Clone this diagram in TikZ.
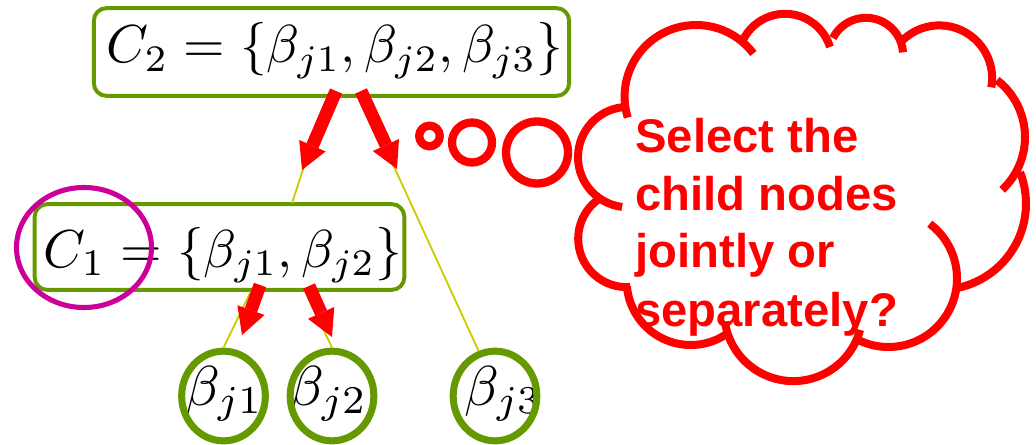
\documentclass[tikz,border=0pt]{standalone}
\usepackage{graphicx}
\usepackage{fontspec}
\newfontfamily\cloudfont{Liberation Sans}
\usetikzlibrary{arrows.meta,calc,shapes.geometric}
\definecolor{boxgreen}{RGB}{102,153,0}
\definecolor{lineyellow}{RGB}{204,204,0}
\definecolor{ringmagenta}{RGB}{204,0,153}
\definecolor{thinkred}{RGB}{255,0,0}
\newcommand{\cloudlobe}[5]{\draw[cloudline] ($(#1,#2)+(#3:#5)$) arc[start angle=#3,end angle=#4,radius=#5];}
\begin{document}
\begin{tikzpicture}[x=0.025cm,y=-0.025cm,
  mathtext/.style={inner sep=0pt,anchor=base},
  grbox/.style={draw=boxgreen,line width=2.8pt,rounded corners=9pt,inner sep=0pt},
  leaf/.style={ellipse,draw=boxgreen,line width=5pt,minimum width=59.5pt,minimum height=63.8pt,inner sep=0pt},
  treeline/.style={draw=lineyellow,line width=1.3pt},
  bigarrow/.style={draw=thinkred,line width=9.2pt,-{Triangle[width=20.5pt,length=18.8pt,line width=0pt]}},
  cloudline/.style={draw=thinkred,line width=5.7pt},
  bubble/.style={draw=thinkred,line width=5.9pt},
  cloudtext/.style={text=thinkred,inner sep=0pt,anchor=base west,font=\cloudfont\bfseries\fontsize{33.6}{40}\selectfont}
]
\useasboundingbox[fill=white] (0,0) rectangle (1036,445);

% boxes and their formulas
\node[grbox,minimum width=338pt,minimum height=62.4pt] (c2box) at (331.5,52) {};
\node[mathtext] (c2txt) at (335,63) {\scalebox{3.8}{$C_2=\{\beta_{j1},\beta_{j2},\beta_{j3}\}$}};
\node[grbox,minimum width=262.9pt,minimum height=61pt] (c1box) at (219.5,247) {};
\node[mathtext] (c1txt) at (223,267) {\scalebox{3.8}{$C_1=\{\beta_{j1},\beta_{j2}\}$}};

% leaves
\node[mathtext] (b1txt) at (224.5,405) {\scalebox{4}{$\beta_{j1}$}};
\node[mathtext] (b2txt) at (328.5,405) {\scalebox{4}{$\beta_{j2}$}};
\node[mathtext] (b3txt) at (503.5,405) {\scalebox{4}{$\beta_{j3}$}};
\node[leaf] (b1) at (223.5,396) {};
\node[leaf] (b2) at (332,396) {};
\node[leaf] (b3) at (495,396) {};

% tree edges
\coordinate (c2a) at (327,97);
\coordinate (c2b) at (362,97);
\coordinate (c1top) at (292,203);
\coordinate (c1a) at (251,291);
\coordinate (c1b) at (305,291);
\draw[treeline] (c2a) -- (c1top);
\draw[treeline] (c2b) -- (b3.110);
\draw[treeline] (c1a) -- (b1.north);
\draw[treeline] (c1b) -- (b2.north);

% red arrows
\coordinate (a1s) at (336,91);
\coordinate (a1e) at (302,170);
\coordinate (a2s) at (361,91);
\coordinate (a2e) at (397,169);
\coordinate (a3s) at (260,285);
\coordinate (a3e) at (242,335);
\coordinate (a4s) at (309,286);
\coordinate (a4e) at (332,337);
\draw[bigarrow] (a1s) -- (a1e);
\draw[bigarrow] (a2s) -- (a2e);
\draw[bigarrow] (a3s) -- (a3e);
\draw[bigarrow] (a4s) -- (a4e);

% magenta ring
\draw[draw=ringmagenta,line width=3.6pt] (84,247.5) ellipse [x radius=67.5,y radius=60];

% thought bubbles
\draw[bubble] (429.5,136) circle [radius=10.3];
\draw[bubble] (472,142.5) circle [radius=20];
\draw[bubble] (537,152.5) circle [radius=31];

% cloud
\cloudlobe{696.2}{96.6}{163}{323}{71.6}
\cloudlobe{785.1}{60.7}{206}{343}{46.9}
\cloudlobe{866.0}{54.9}{207}{356}{37.1}
\cloudlobe{939.3}{78.2}{222}{370}{52.8}
\cloudlobe{952.9}{137.1}{307.7}{407}{72.1}
\cloudlobe{939.9}{203.6}{338.5}{438}{86.1}
\cloudlobe{888.5}{278.5}{307}{480}{68.5}
\cloudlobe{793.3}{312.0}{15}{172}{69.1}
\cloudlobe{690.7}{281.0}{54}{175}{64.0}
\cloudlobe{626.6}{238.7}{86}{237}{48.4}
\cloudlobe{628.2}{157.1}{97}{268}{50.2}

\node[cloudtext] (q1) at (635,153) {Select the};
\node[cloudtext] (q2) at (635,210) {child nodes};
\node[cloudtext] (q3) at (635,267) {jointly or};
\node[cloudtext] (q4) at (635,326) {separately?};
\end{tikzpicture}
\end{document}
